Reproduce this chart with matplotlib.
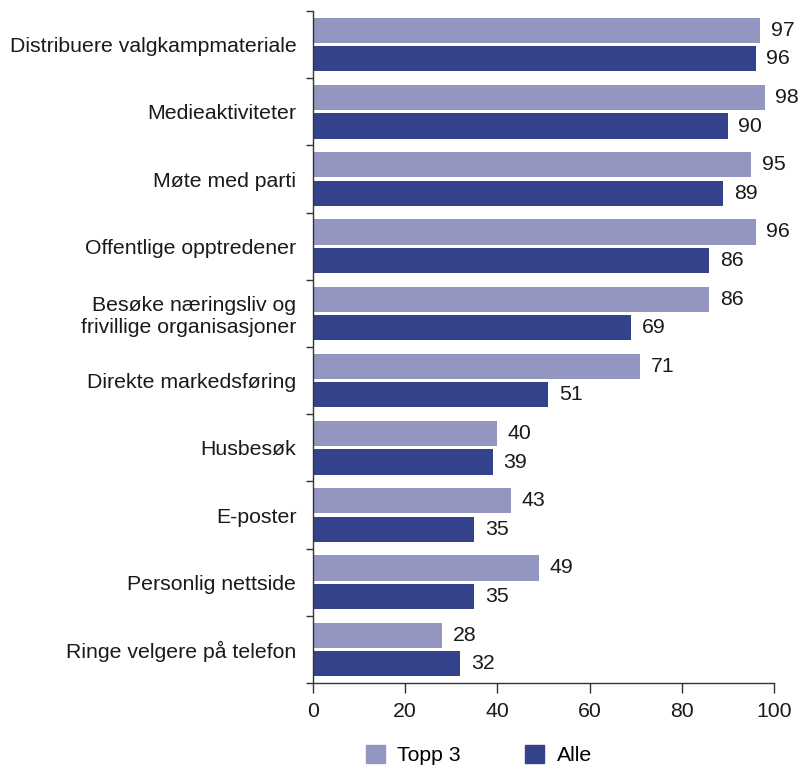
import matplotlib
matplotlib.use("Agg")
import matplotlib.pyplot as plt
from matplotlib.patches import Patch

plt.rcParams['font.family'] = ['Liberation Sans', 'DejaVu Sans']

categories = ["Distribuere valgkampmateriale", "Medieaktiviteter", "Møte med parti",
              "Offentlige opptredener", "Besøke næringsliv og\nfrivillige organisasjoner",
              "Direkte markedsføring", "Husbesøk", "E-poster", "Personlig nettside",
              "Ringe velgere på telefon"]
topp3 = [97, 98, 95, 96, 86, 71, 40, 43, 49, 28]
alle = [96, 90, 89, 86, 69, 51, 39, 35, 35, 32]
series_names = ["Topp 3", "Alle"]
xticks = [0, 20, 40, 60, 80, 100]

c_light = "#9496C2"
c_dark = "#33428A"
spine_c = "#333333"
txt_c = "#1a1a1a"
fs = 15.3

fig = plt.figure(figsize=(7.98, 7.69), dpi=100)
ax = fig.add_axes([0.3922, 0.1118, 0.5777, 0.8739])

y = list(range(len(categories)))
h = 0.375
off = 0.212
ax.barh([v - off for v in y], topp3, height=h, color=c_light)
ax.barh([v + off for v in y], alle, height=h, color=c_dark)

for i in y:
    ax.text(topp3[i] + 2.3, i - off, str(topp3[i]), va='center', ha='left', fontsize=fs, color=txt_c)
    ax.text(alle[i] + 2.3, i + off, str(alle[i]), va='center', ha='left', fontsize=fs, color=txt_c)

ax.set_ylim(len(categories) - 0.5, -0.5)
ax.set_xlim(0, 100)
ax.set_xticks(xticks)
ax.set_xticklabels([str(t) for t in xticks], fontsize=fs, color=txt_c)
ax.set_yticks([v - 0.5 for v in range(len(categories) + 1)])
ax.set_yticklabels([])
ax.set_yticks(y, minor=True)
ax.set_yticklabels(categories, minor=True, fontsize=fs, color=txt_c, linespacing=1.15)
ax.tick_params(axis='y', which='minor', length=0, pad=12)
ax.tick_params(axis='y', which='major', length=5, color=spine_c, width=1)
ax.tick_params(axis='x', length=7, color=spine_c, width=1, pad=7)

for s in ['top', 'right']:
    ax.spines[s].set_visible(False)
for s in ['left', 'bottom']:
    ax.spines[s].set_color(spine_c)
    ax.spines[s].set_linewidth(1)

handles = [Patch(color=c_light), Patch(color=c_dark)]
fig.legend(handles, series_names, loc='center', bbox_to_anchor=(0.6, 0.018), ncol=2,
           frameon=False, fontsize=fs, handlelength=0.9, handleheight=0.9,
           columnspacing=3.0, handletextpad=0.6)

fig.savefig("out.png", dpi=100)
